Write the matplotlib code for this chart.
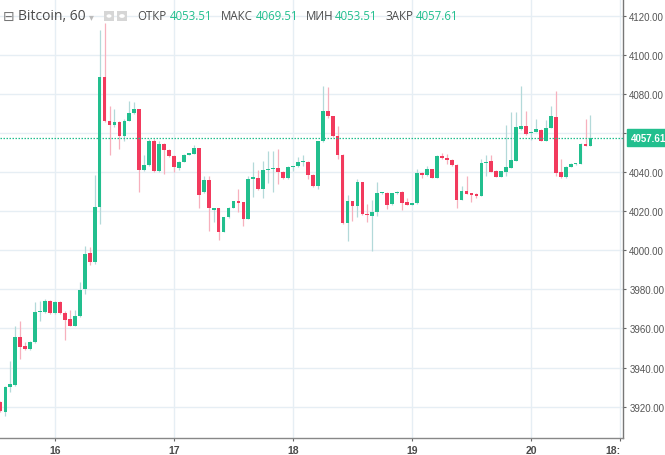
import matplotlib.pyplot as plt
import matplotlib.transforms as mtransforms
from matplotlib.patches import FancyBboxPatch, Circle
import numpy as np

# hourly candles, hour 0 = 16th 00:00
hours = list(range(-11, 109))

opens = [3922.5, 3917.2, 3930.0, 3931.1, 3955.6, 3951.0, 3949.5, 3953.0, 3968.4, 3968.6,
         3974.1, 3967.9, 3973.6, 3967.9, 3964.8, 3961.3, 3966.4, 3980.2, 3998.6, 3994.0,
         4022.2, 4088.8, 4066.2, 4064.2, 4065.7, 4058.6, 4066.2, 4070.3, 4072.4, 4041.1,
         4043.7, 4056.0, 4040.6, 4054.5, 4051.4, 4048.3, 4042.2, 4045.2, 4049.0, 4049.5,
         4052.3, 4029.7, 4036.0, 4020.5, 4021.5, 4009.6, 4016.9, 4021.7, 4025.2, 4024.6,
         4016.1, 4036.5, 4037.0, 4031.4, 4041.1, 4041.5, 4042.0, 4040.3, 4036.9, 4042.5,
         4043.0, 4045.1, 4045.4, 4038.7, 4032.8, 4055.8, 4071.2, 4068.6, 4058.4, 4049.0,
         4013.9, 4025.1, 4022.9, 4034.8, 4018.6, 4017.7, 4019.5, 4029.2, 4029.6, 4023.5,
         4029.2, 4029.8, 4024.6, 4023.4, 4024.0, 4039.6, 4038.6, 4041.4, 4037.2, 4048.5,
         4047.1, 4046.3, 4043.9, 4026.0, 4030.2, 4029.2, 4028.9, 4028.0, 4044.5, 4045.8,
         4040.6, 4037.7, 4040.3, 4042.3, 4046.0, 4062.0, 4063.8, 4059.9, 4060.8, 4061.8,
         4056.2, 4062.7, 4068.2, 4040.3, 4037.4, 4042.8, 4044.1, 4044.4, 4054.5, 4053.51]
highs = [3923.0, 3930.5, 3943.4, 3961.3, 3963.8, 3953.0, 3953.5, 3973.6, 3974.0, 3975.0,
         3974.5, 3974.0, 3974.0, 3969.0, 3969.5, 3969.5, 3983.8, 4002.2, 4001.7, 4038.6,
         4112.8, 4116.4, 4074.0, 4072.4, 4066.0, 4067.0, 4076.5, 4076.0, 4072.6, 4049.0,
         4057.0, 4057.0, 4056.0, 4055.0, 4051.8, 4048.6, 4045.6, 4049.3, 4050.0, 4054.0,
         4052.6, 4038.2, 4038.0, 4021.8, 4021.8, 4017.2, 4022.0, 4025.4, 4031.4, 4025.0,
         4038.0, 4045.4, 4041.0, 4046.0, 4051.0, 4051.0, 4052.0, 4040.6, 4043.0, 4043.3,
         4048.0, 4049.0, 4045.7, 4039.0, 4056.2, 4084.0, 4083.5, 4069.0, 4063.8, 4049.3,
         4028.3, 4025.5, 4036.5, 4035.0, 4023.7, 4025.8, 4034.8, 4029.9, 4030.0, 4029.5,
         4030.2, 4030.2, 4027.0, 4024.3, 4041.7, 4040.0, 4043.0, 4041.8, 4048.8, 4050.0,
         4049.5, 4046.6, 4044.2, 4033.0, 4038.2, 4029.5, 4029.2, 4046.8, 4048.8, 4048.8,
         4040.9, 4040.8, 4064.3, 4070.7, 4070.7, 4084.0, 4071.5, 4061.1, 4067.3, 4062.1,
         4066.9, 4074.1, 4081.8, 4046.8, 4043.1, 4044.7, 4044.9, 4054.8, 4067.3, 4069.51]
lows = [3917.0, 3915.3, 3927.5, 3930.5, 3944.4, 3949.0, 3949.0, 3952.5, 3963.8, 3968.0,
        3967.4, 3967.5, 3967.5, 3954.0, 3961.0, 3961.0, 3966.0, 3977.7, 3992.5, 3993.0,
        4013.5, 4065.5, 4049.0, 4063.0, 4052.0, 4056.0, 4066.0, 4070.0, 4030.0, 4040.5,
        4043.0, 4040.0, 4040.0, 4039.0, 4048.0, 4040.1, 4041.0, 4045.0, 4048.8, 4049.2,
        4021.7, 4029.3, 4010.0, 4014.5, 4005.5, 4009.3, 4016.5, 4021.5, 4019.6, 4012.3,
        4016.0, 4027.3, 4031.0, 4027.0, 4034.5, 4030.0, 4034.0, 4036.5, 4036.5, 4040.5,
        4042.7, 4043.0, 4036.5, 4032.5, 4031.4, 4055.5, 4067.6, 4058.0, 4046.8, 4013.5,
        4005.0, 4015.2, 4016.9, 4018.3, 4014.7, 3999.8, 4017.7, 4029.0, 4021.2, 4023.2,
        4029.0, 4020.8, 4023.2, 4023.0, 4023.6, 4037.2, 4038.3, 4037.0, 4036.8, 4046.8,
        4044.0, 4043.4, 4021.5, 4025.7, 4028.6, 4024.6, 4026.7, 4027.7, 4038.0, 4040.0,
        4037.4, 4037.4, 4038.2, 4042.0, 4045.7, 4061.7, 4059.3, 4056.5, 4060.5, 4055.9,
        4055.9, 4062.4, 4038.2, 4037.1, 4037.1, 4042.5, 4043.8, 4044.1, 4053.2, 4053.51]
closes = [3917.5, 3930.2, 3931.6, 3955.6, 3950.5, 3949.5, 3953.0, 3968.4, 3969.0, 3974.1,
          3967.9, 3973.6, 3967.9, 3964.3, 3961.3, 3966.4, 3979.7, 3998.1, 3994.0, 4022.2,
          4088.8, 4066.2, 4064.2, 4065.7, 4058.6, 4066.2, 4070.3, 4072.4, 4041.1, 4043.7,
          4056.0, 4040.6, 4054.5, 4051.4, 4048.3, 4042.7, 4045.2, 4049.0, 4049.5, 4052.3,
          4028.3, 4036.0, 4021.7, 4021.5, 4009.6, 4016.9, 4021.7, 4025.1, 4024.1, 4016.1,
          4036.5, 4037.4, 4031.4, 4041.1, 4041.5, 4042.0, 4040.0, 4036.9, 4042.5, 4043.0,
          4045.2, 4045.4, 4038.7, 4032.8, 4055.8, 4071.2, 4068.6, 4058.4, 4048.8, 4013.9,
          4025.1, 4022.9, 4034.8, 4018.6, 4018.0, 4019.8, 4029.2, 4029.6, 4023.2, 4029.2,
          4029.8, 4024.2, 4023.4, 4024.0, 4039.6, 4038.6, 4041.7, 4037.2, 4048.5, 4047.1,
          4046.4, 4043.7, 4026.0, 4030.2, 4028.9, 4028.3, 4028.0, 4044.7, 4045.0, 4040.3,
          4037.7, 4040.5, 4042.5, 4046.1, 4063.0, 4063.8, 4059.6, 4060.8, 4062.2, 4056.2,
          4062.7, 4068.6, 4039.5, 4037.4, 4042.8, 4044.4, 4044.6, 4054.5, 4053.5, 4057.61]

day_ticks = [0, 24, 48, 72, 96, 114]
day_labels = ["16", "17", "18", "19", "20", "18:"]
price_ticks = [3920, 3940, 3960, 3980, 4000, 4020, 4040, 4060, 4080, 4100, 4120]

up = '#22bf8e'
down = '#f23a5d'
up_wick = '#b3d9d9'
down_wick = '#f7b0bd'
grid_c = '#e6eef4'

W, H = 665, 456
fig = plt.figure(figsize=(W / 100, H / 100), dpi=100)
ax = fig.add_axes([0, 1 - 439 / H, 623 / W, 439 / H])

o = np.array(opens)
c = np.array(closes)
x = np.array(hours)
is_up = c >= o
bottom = np.minimum(o, c)
height = np.maximum(np.abs(c - o), 0.6)

ax.vlines(x[is_up], np.array(lows)[is_up], np.array(highs)[is_up], color=up_wick, lw=0.9, zorder=2)
ax.vlines(x[~is_up], np.array(lows)[~is_up], np.array(highs)[~is_up], color=down_wick, lw=0.9, zorder=2)
ax.bar(x[is_up], height[is_up], bottom=bottom[is_up], width=0.76, color=up, lw=0, zorder=3)
ax.bar(x[~is_up], height[~is_up], bottom=bottom[~is_up], width=0.76, color=down, lw=0, zorder=3)

last = closes[-1]
ax.axhline(last, color=up, lw=0.9, linestyle=(0, (1.2, 1.2)), zorder=4)

ax.set_xlim(-11.09, 114.56)
ax.set_ylim(3903.9, 4128.7)

ax.set_xticks(day_ticks)
ax.set_xticklabels(day_labels, fontsize=7.5, fontweight='bold', color='#4a4a4a',
                   family='Liberation Sans')
ax.get_xticklabels()[-1].set_horizontalalignment('right')
ax.yaxis.tick_right()
ax.set_yticks(price_ticks)
# the 4060 label sits under the last-price box
ax.set_yticklabels(["" if p == 4060 else f"{p:.2f}" for p in price_ticks], fontsize=7,
                   color='#555555', family='Liberation Sans')
ax.tick_params(axis='y', length=2.5, width=0.8, color='#666666', pad=2)
ax.tick_params(axis='x', length=2.5, width=0.8, color='#666666', pad=2.5)

ax.grid(True, color=grid_c, lw=1)
ax.set_axisbelow(True)
for s in ['top', 'left']:
    ax.spines[s].set_visible(False)
ax.spines['right'].set_color('#777777')
ax.spines['bottom'].set_color('#888888')
ax.spines['right'].set_linewidth(1)
ax.spines['bottom'].set_linewidth(1)

# last price label on the axis
trans = mtransforms.blended_transform_factory(ax.transAxes, ax.transData)
ax.text(1.012, last, f"{last:.2f}", transform=trans, ha='left', va='center',
        fontsize=7, color='white', fontweight='bold', family='Liberation Sans',
        bbox=dict(boxstyle='square,pad=0.35', fc=up, ec=up), clip_on=False, zorder=6)

# header legend
ty = 1 - 17 / H
fig.text(3 / W, ty, "⊟", fontsize=10, color='#777777', va='center', family='DejaVu Sans')
fig.text(18 / W, ty, "Bitcoin, 60", fontsize=10, color='#4a4a4a', va='center', family='Open Sans')
fig.text(89 / W, ty, "▾", fontsize=7, color='#bbbbbb', va='center', family='DejaVu Sans')
for ix in [104, 117]:
    fig.patches.append(FancyBboxPatch((ix / W, 1 - 22 / H), 10 / W, 10 / H,
                                      boxstyle='round,pad=0', fc='#d6d6d6', ec='none',
                                      transform=fig.transFigure, figure=fig))
fig.patches.append(Circle((109 / W, 1 - 17 / H), 2.5 / W, fc='white', ec='none',
                          transform=fig.transFigure, figure=fig))
fig.patches.append(Circle((122 / W, 1 - 17 / H), 2.8 / W, fc='white', ec='none',
                          transform=fig.transFigure, figure=fig))

pieces = [(137, "ОТКР", '#4a4a4a'), (170, "4053.51", up),
          (221, "МАКС", '#4a4a4a'), (256, "4069.51", up),
          (306, "МИН", '#4a4a4a'), (335, "4053.51", up),
          (385, "ЗАКР", '#4a4a4a'), (416, "4057.61", up)]
for px, txt, col in pieces:
    fig.text(px / W, ty, txt, fontsize=8.3, color=col, va='center', family='Open Sans')

fig.savefig("out.png", dpi=100)
